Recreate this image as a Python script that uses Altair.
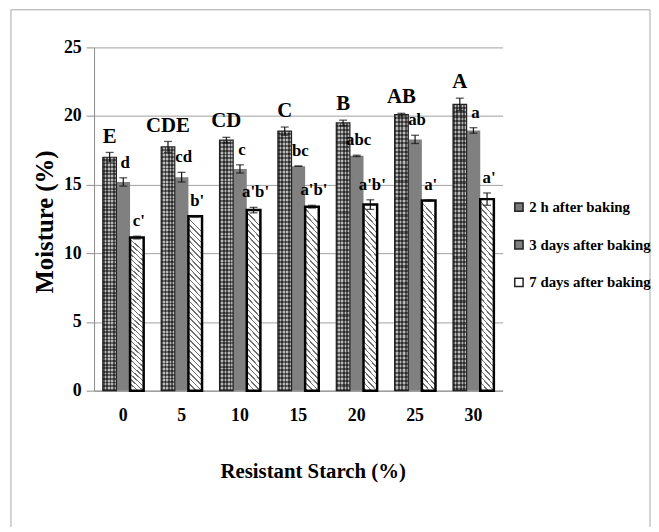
import altair as alt
import pandas as pd

# ---- data ----
starch = ["0", "5", "10", "15", "20", "25", "30"]
series = ["2 h after baking", "3 days after baking", "7 days after baking"]

h2 = [17.0, 17.75, 18.25, 18.9, 19.5, 20.1, 20.85]
d3 = [15.2, 15.55, 16.15, 16.35, 17.1, 18.3, 18.95]
d7 = [11.15, 12.7, 13.15, 13.4, 13.55, 13.85, 13.95]

e_h2 = [0.35, 0.4, 0.2, 0.3, 0.2, 0.1, 0.45]
e_d3 = [0.3, 0.35, 0.3, 0.0, 0.05, 0.3, 0.2]
e_d7 = [0.1, 0.05, 0.2, 0.1, 0.35, 0.05, 0.45]

lab_h2 = ["E", "CDE", "CD", "C", "B", "AB", "A"]
lab_d3 = ["d", "cd", "c", "bc", "abc", "ab", "a"]
lab_d7 = ["c'", "b'", "a'b'", "a'b'", "a'b'", "a'", "a'"]

rows = []
for vals, errs, labs, s in [(h2, e_h2, lab_h2, series[0]),
                            (d3, e_d3, lab_d3, series[1]),
                            (d7, e_d7, lab_d7, series[2])]:
    for rs, v, e, l in zip(starch, vals, errs, labs):
        rows.append({"rs": rs, "series": s, "value": v,
                     "lo": v - e, "hi": v + e, "label": l})
df = pd.DataFrame(rows)

FONT = "Liberation Serif"

x_enc = alt.X("rs:N", sort=starch,
              scale=alt.Scale(paddingInner=0.3, paddingOuter=0.15),
              axis=alt.Axis(title="Resistant Starch (%)", labelAngle=0,
                            ticks=False, labelPadding=16,
                            labelFontSize=18, titleFontSize=21,
                            titleX=221, titleY=88, titleAlign="center",
                            titleBaseline="alphabetic"))
xo_enc = alt.XOffset("series:N", sort=series, scale=alt.Scale(domain=series))
y_scale = alt.Scale(domain=[0, 25])
y_enc = alt.Y("value:Q", scale=y_scale,
              axis=alt.Axis(title="Moisture (%)", values=[0, 5, 10, 15, 20, 25],
                            tickSize=8, labelPadding=5, labelFontSize=18,
                            titleFontSize=25, titleX=-50, titleY=176,
                            titleAngle=270, titleAlign="center",
                            titleBaseline="middle"))

base = alt.Chart(df)

# decorative outer frame
frame = alt.Chart(pd.DataFrame({"k": [0]})).mark_rect(
    fill="white", fillOpacity=0, stroke="#a8a8a8", strokeWidth=1
).encode(x=alt.value(-84), x2=alt.value(562), y=alt.value(-38), y2=alt.value(600))

bars = base.mark_bar().encode(
    x=x_enc, xOffset=xo_enc, y=y_enc,
    color=alt.Color("series:N", sort=series,
                    scale=alt.Scale(domain=series,
                                    range=["#7a7a7a", "#808080", "#ffffff"]),
                    legend=alt.Legend(title=None, orient="none",
                                      legendX=422, legendY=154,
                                      symbolType="square", symbolSize=70,
                                      symbolStrokeColor="#222",
                                      symbolStrokeWidth=1.5,
                                      labelFontSize=15, rowPadding=22,
                                      labelOffset=3)),
)

# hatch for 7 days bars (downward diagonal)
N = 32
stops7 = [alt.GradientStop(offset=0, color="#ffffff")]
for i in range(N):
    a = (i + 0.4) / N
    b = (i + 0.68) / N
    stops7 += [alt.GradientStop(offset=a, color="#ffffff"),
               alt.GradientStop(offset=a + 0.0005, color="#6e6e6e"),
               alt.GradientStop(offset=b, color="#6e6e6e"),
               alt.GradientStop(offset=b + 0.0005, color="#ffffff")]
stops7.append(alt.GradientStop(offset=1, color="#ffffff"))
hatch7 = alt.Gradient(gradient="linear", stops=stops7, x1=0.08, y1=0, x2=0, y2=1)

bars7 = base.transform_filter(alt.datum.series == series[2]).mark_bar(
    fill=hatch7, stroke="#000", strokeWidth=2.5
).encode(x=x_enc, xOffset=xo_enc, y=y_enc)

# texture for 2 h bars
M = 65
stops2 = []
for i in range(M):
    a = i / M
    b = a + 0.5 / M
    stops2 += [alt.GradientStop(offset=a, color="#a8a8a8"),
               alt.GradientStop(offset=b, color="#a8a8a8"),
               alt.GradientStop(offset=b, color="#3c3c3c"),
               alt.GradientStop(offset=min(a + 1.0 / M, 1), color="#3c3c3c")]
tex2 = alt.Gradient(gradient="linear", stops=stops2, x1=0, y1=0, x2=0, y2=1)
K = 4
stops2v = []
for i in range(K):
    a = i / K
    b = a + 0.5 / K
    stops2v += [alt.GradientStop(offset=a, color="rgba(30,30,30,0.55)"),
                alt.GradientStop(offset=b, color="rgba(30,30,30,0.55)"),
                alt.GradientStop(offset=b, color="rgba(255,255,255,0.2)"),
                alt.GradientStop(offset=min(a + 1.0 / K, 1), color="rgba(255,255,255,0.2)")]
tex2v = alt.Gradient(gradient="linear", stops=stops2v, x1=0, y1=0, x2=1, y2=0)

f2 = base.transform_filter(alt.datum.series == series[0])
bars2a = f2.mark_bar(fill=tex2).encode(x=x_enc, xOffset=xo_enc, y=y_enc)
bars2b = f2.mark_bar(fill=tex2v, stroke="#222", strokeWidth=1.2).encode(
    x=x_enc, xOffset=xo_enc, y=y_enc)

err_rule = base.mark_rule(color="#111", strokeWidth=1.2).encode(
    x=x_enc, xOffset=xo_enc, y=alt.Y("lo:Q", scale=y_scale), y2="hi:Q")
cap_hi = base.mark_tick(orient="horizontal", size=8, thickness=1.3, color="#111").encode(
    x=x_enc, xOffset=xo_enc, y=alt.Y("hi:Q", scale=y_scale))
cap_lo = base.mark_tick(orient="horizontal", size=8, thickness=1.3, color="#111").encode(
    x=x_enc, xOffset=xo_enc, y=alt.Y("lo:Q", scale=y_scale))

txt_caps = base.transform_filter(alt.datum.series == series[0]).mark_text(
    baseline="alphabetic", dy=-10, fontSize=21, font=FONT, fontWeight="bold",
    color="#000").encode(x=x_enc, xOffset=xo_enc,
                         y=alt.Y("hi:Q", scale=y_scale), text="label:N")
txt_low = base.transform_filter(alt.datum.series != series[0]).mark_text(
    baseline="alphabetic", dy=-10, dx=2, fontSize=17, font=FONT, fontWeight="bold",
    color="#000").encode(x=x_enc, xOffset=xo_enc,
                         y=alt.Y("hi:Q", scale=y_scale), text="label:N")

chart = alt.layer(
    frame, bars, bars2a, bars2b, bars7, err_rule, cap_hi, cap_lo, txt_caps, txt_low
).properties(
    width=413, height=347,
    autosize=alt.AutoSizeParams(type="none"),
    padding={"left": 87, "top": 37, "right": 150, "bottom": 135},
    background="white",
).configure_view(stroke=None).configure_axis(
    labelFont=FONT, titleFont=FONT, labelFontWeight="bold", titleFontWeight="bold",
    labelColor="#000", titleColor="#000",
    domainColor="#8c8c8c", tickColor="#8c8c8c", gridColor="#a0a0a0",
    gridWidth=1, domainWidth=1,
).configure_axisX(grid=False).configure_legend(
    labelFont=FONT, labelFontWeight="bold", labelColor="#000"
)

chart.save("out.html", embed_options={"renderer": "svg", "actions": False})
